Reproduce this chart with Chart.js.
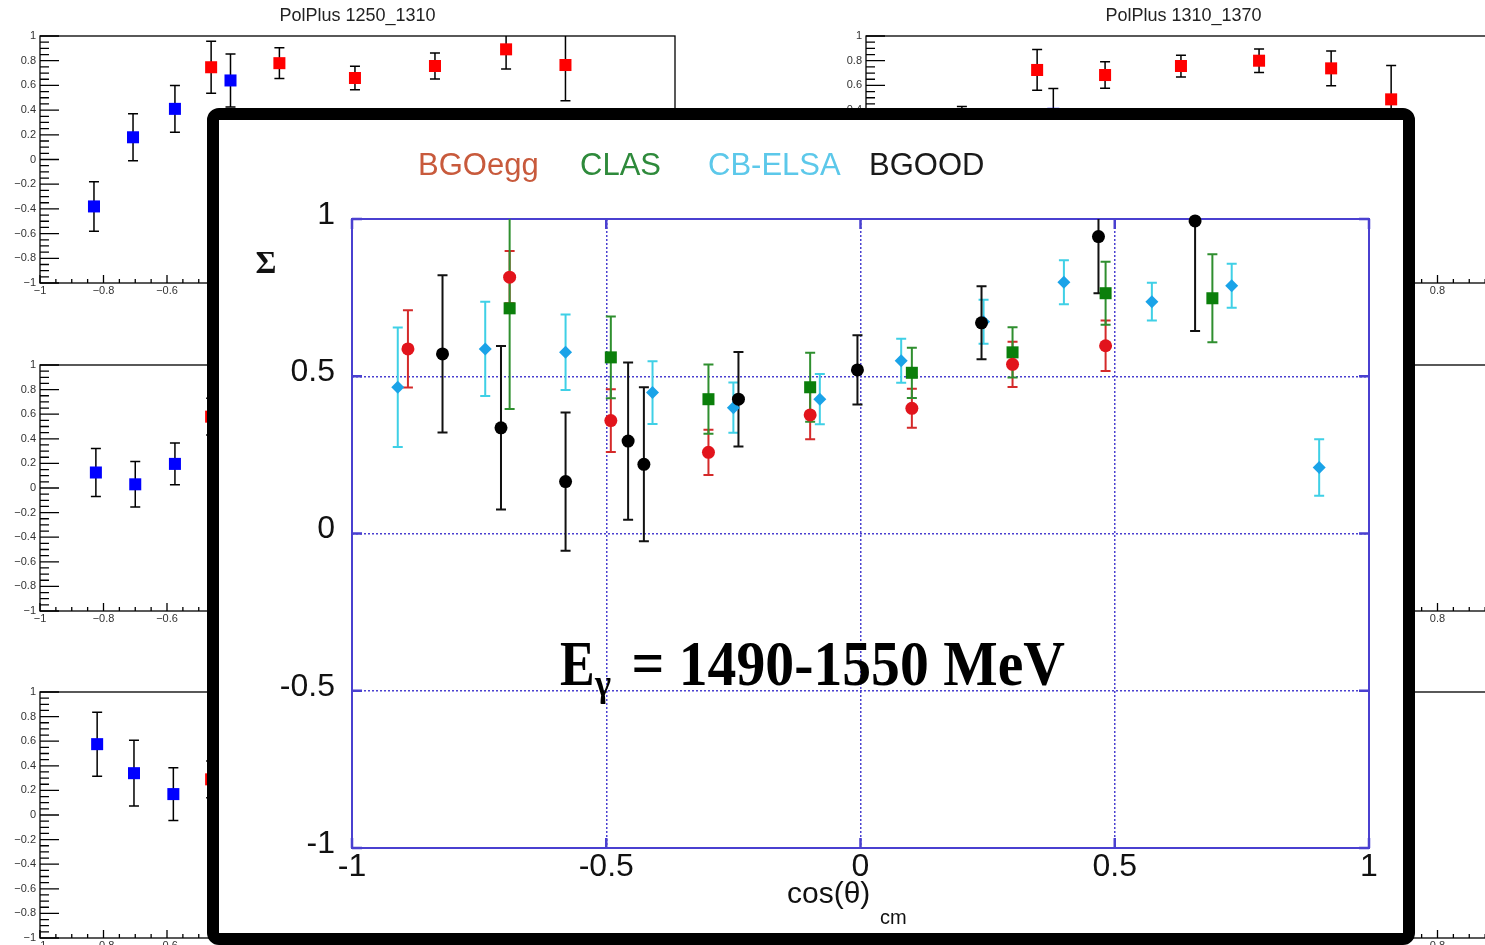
<!DOCTYPE html>
<html>
<head>
<meta charset="utf-8">
<title>Beam asymmetry Sigma</title>
<script src="https://cdn.jsdelivr.net/npm/chart.js@4.4.0/dist/chart.umd.min.js"></script>
<style>
  html, body { margin: 0; padding: 0; background: #fff; }
  body { width: 1485px; height: 945px; overflow: hidden; position: relative; }
  .panel { position: absolute; width: 700px; }
  #overlay {
    position: absolute; left: 207px; top: 108px; width: 1208px; height: 837px;
    border: 12px solid #000; border-radius: 12px; box-sizing: border-box; background: #fff;
  }
  #main-wrap { position: absolute; left: 0; top: 0; width: 1184px; height: 813px; }
</style>
</head>
<body>

<div class="panel" style="left:0px;top:0px;height:303px"><canvas id="p1"></canvas></div>
<div class="panel" style="left:826px;top:0px;height:303px"><canvas id="p2"></canvas></div>
<div class="panel" style="left:0px;top:329px;height:302px"><canvas id="p3"></canvas></div>
<div class="panel" style="left:826px;top:329px;height:302px"><canvas id="p4"></canvas></div>
<div class="panel" style="left:0px;top:656px;height:302px"><canvas id="p5"></canvas></div>
<div class="panel" style="left:826px;top:656px;height:302px"><canvas id="p6"></canvas></div>

<div id="overlay">
  <div id="main-wrap"><canvas id="sigma-chart"></canvas></div>
</div>

<script>
// ---- background panels (PolPlus) ----
const p1Title = "PolPlus 1250_1310";
const p1BlueX = [-0.83, -0.707, -0.575, -0.40];
const p1BlueY = [-0.38, 0.18, 0.41, 0.64];
const p1BlueErr = [0.20, 0.19, 0.19, 0.215];
const p1RedX = [-0.461, -0.246, -0.008, 0.244, 0.468, 0.655];
const p1RedY = [0.747, 0.78, 0.66, 0.757, 0.892, 0.765];
const p1RedErr = [0.21, 0.125, 0.095, 0.105, 0.16, 0.29];

const p2Title = "PolPlus 1310_1370";
const p2BlueX = [-0.698, -0.41];
const p2BlueY = [0.24, 0.37];
const p2BlueErr = [0.19, 0.205];
const p2RedX = [-0.461, -0.247, -0.008, 0.238, 0.465, 0.654];
const p2RedY = [0.725, 0.684, 0.757, 0.80, 0.738, 0.487];
const p2RedErr = [0.165, 0.108, 0.088, 0.095, 0.14, 0.275];

const p3BlueX = [-0.824, -0.70, -0.575];
const p3BlueY = [0.126, 0.03, 0.196];
const p3BlueErr = [0.195, 0.185, 0.17];
const p3RedX = [-0.461];
const p3RedY = [0.58];
const p3RedErr = [0.15];

const p5BlueX = [-0.82, -0.704, -0.58];
const p5BlueY = [0.576, 0.34, 0.17];
const p5BlueErr = [0.26, 0.267, 0.215];
const p5RedX = [-0.461];
const p5RedY = [0.29];
const p5RedErr = [0.15];

// ---- main plot: Sigma vs cos(theta)_cm, E_gamma = 1490-1550 MeV ----
const seriesNames = ["BGOegg", "CLAS", "CB-ELSA", "BGOOD"];

const bgoX = [-0.890, -0.690, -0.491, -0.299, -0.099, 0.101, 0.299, 0.482];
const bgoY = [0.587, 0.815, 0.359, 0.258, 0.377, 0.398, 0.538, 0.597];
const bgoErr = [0.123, 0.083, 0.10, 0.072, 0.077, 0.062, 0.072, 0.08];

const clasX = [-0.690, -0.491, -0.299, -0.099, 0.101, 0.299, 0.482, 0.692];
const clasY = [0.716, 0.560, 0.427, 0.465, 0.511, 0.576, 0.764, 0.748];
const clasErr = [0.32, 0.13, 0.11, 0.11, 0.08, 0.08, 0.10, 0.14];

const cbX = [-0.910, -0.738, -0.580, -0.409, -0.250, -0.080, 0.080, 0.242, 0.400, 0.573, 0.730, 0.902];
const cbY = [0.465, 0.587, 0.576, 0.448, 0.400, 0.427, 0.549, 0.673, 0.799, 0.737, 0.788, 0.210];
const cbErr = [0.19, 0.15, 0.12, 0.10, 0.08, 0.08, 0.07, 0.07, 0.07, 0.06, 0.07, 0.09];

const bgoodX = [-0.822, -0.707, -0.580, -0.457, -0.426, -0.240, -0.006, 0.238, 0.468, 0.658];
const bgoodY = [0.571, 0.336, 0.165, 0.294, 0.220, 0.427, 0.520, 0.670, 0.944, 0.994];
const bgoodErr = [0.25, 0.26, 0.22, 0.25, 0.245, 0.15, 0.11, 0.116, 0.18, 0.35];

const frameBlue = "#4a40d0";

Chart.defaults.font.family = "'Liberation Sans', Arial, sans-serif";

function points(xs, ys){
    return xs.map((v, i) => ({x: v, y: ys[i]}));
}

// ROOT style number, with a real minus sign
function rootLabel(v){
    const r = Math.round(v * 100) / 100;
    return r < 0 ? "\u2212" + String(-r) : String(r);
}

// frame box + inward ticks like ROOT
const rootFrame = {
    id: 'rootFrame',
    beforeDatasetsDraw(chart, args, o){
        const {ctx, chartArea: a, scales: {x, y}} = chart;
        ctx.save();
        ctx.strokeStyle = o.color;
        ctx.lineWidth = o.width;
        ctx.strokeRect(a.left, a.top, a.right - a.left, a.bottom - a.top);

        const walk = (minor, major, fn) => {
            const n = Math.round(2 / minor);
            for(let i = 0; i <= n; i++){
                const v = -1 + i * minor;
                const r = v / major;
                fn(v, Math.abs(r - Math.round(r)) < 1e-6);
            }
        };
        ctx.lineWidth = o.tickWidth;
        ctx.beginPath();
        walk(o.xMinor, o.xMajor, (v, big) => {
            const px = x.getPixelForValue(v);
            const len = big ? o.xMajorLen : o.xMinorLen;
            ctx.moveTo(px, a.bottom); ctx.lineTo(px, a.bottom - len);
            if(o.mirror){ ctx.moveTo(px, a.top); ctx.lineTo(px, a.top + len); }
        });
        walk(o.yMinor, o.yMajor, (v, big) => {
            const py = y.getPixelForValue(v);
            const len = big ? o.yMajorLen : o.yMinorLen;
            ctx.moveTo(a.left, py); ctx.lineTo(a.left + len, py);
            if(o.mirror){ ctx.moveTo(a.right, py); ctx.lineTo(a.right - len, py); }
        });
        ctx.stroke();
        ctx.restore();
    }
};

// vertical error bars with caps, clipped to the frame
const errorBars = {
    id: 'errorBars',
    beforeDatasetsDraw(chart){
        const {ctx, chartArea: a, scales: {x, y}} = chart;
        ctx.save();
        ctx.beginPath();
        ctx.rect(a.left, a.top, a.right - a.left, a.bottom - a.top);
        ctx.clip();
        chart.data.datasets.forEach(ds => {
            if(!ds.errors) return;
            ctx.strokeStyle = ds.errorColor;
            ctx.lineWidth = ds.errorWidth;
            const c = ds.capHalf;
            ds.data.forEach((p, j) => {
                const px = x.getPixelForValue(p.x);
                const top = y.getPixelForValue(p.y + ds.errors[j]);
                const bot = y.getPixelForValue(p.y - ds.errors[j]);
                ctx.beginPath();
                ctx.moveTo(px, top); ctx.lineTo(px, bot);
                ctx.moveTo(px - c, top); ctx.lineTo(px + c, top);
                ctx.moveTo(px - c, bot); ctx.lineTo(px + c, bot);
                ctx.stroke();
            });
        });
        ctx.restore();
    }
};

// legend row, axis titles and the energy label of the big plot
const sigmaText = {
    id: 'sigmaText',
    afterDraw(chart, args, o){
        const ctx = chart.ctx;
        ctx.save();
        ctx.textAlign = 'left';
        ctx.textBaseline = 'alphabetic';

        ctx.font = "31px 'Liberation Sans', Arial, sans-serif";
        chart.data.datasets.forEach((ds, i) => {
            ctx.fillStyle = ds.legendColor;
            ctx.fillText(ds.label, o.legendX[i], o.legendY);
        });

        ctx.fillStyle = "#111";
        ctx.font = "bold 32px 'Liberation Serif', serif";
        ctx.textAlign = 'center';
        ctx.fillText("\u03A3", 47, 153);

        ctx.textAlign = 'left';
        ctx.font = "30px 'Liberation Sans', Arial, sans-serif";
        ctx.fillText("cos(\u03B8)", 568, 783);
        ctx.font = "20px 'Liberation Sans', Arial, sans-serif";
        ctx.fillText("cm", 661, 804);

        ctx.fillStyle = "#000";
        ctx.font = "bold 64px 'Liberation Serif', serif";
        const rest = " = 1490-1550 MeV";
        const k = (846 - 398) / ctx.measureText(rest).width;
        ctx.save(); ctx.translate(341, 565); ctx.scale(k * 0.9, 1); ctx.fillText("E", 0, 0); ctx.restore();
        ctx.save(); ctx.translate(398, 565); ctx.scale(k, 1); ctx.fillText(rest, 0, 0); ctx.restore();
        ctx.font = "bold 38px 'Liberation Serif', serif";
        ctx.save(); ctx.translate(376, 576); ctx.scale(k, 1); ctx.fillText("\u03B3", 0, 0); ctx.restore();
        ctx.restore();
    }
};

function panelChart(id, title, series){
    const hasTitle = !!title;
    return new Chart(document.getElementById(id), {
        type: 'scatter',
        data: {
            datasets: series.map(s => ({
                data: points(s.x, s.y),
                errors: s.err,
                errorColor: "#000",
                errorWidth: 1.5,
                capHalf: 5,
                pointStyle: 'rect',
                pointRadius: 8.5,
                pointHoverRadius: 8.5,
                pointBackgroundColor: s.color,
                pointBorderColor: s.color,
                pointBorderWidth: 0,
                clip: false,
            }))
        },
        options: {
            maintainAspectRatio: false,
            responsive: true,
            animation: false,
            layout: { padding: { top: hasTitle ? 0 : 36, right: 25, left: 0, bottom: 0 } },
            plugins: {
                legend: { display: false },
                tooltip: { enabled: false },
                title: {
                    display: hasTitle,
                    text: title || "",
                    fullSize: false,
                    color: "#222",
                    font: { size: 18, weight: 'normal' },
                    padding: { top: 5, bottom: 9.4 }
                },
                rootFrame: {
                    color: "#000", width: 1.3, tickWidth: 1.3, mirror: false,
                    xMajor: 0.2, xMinor: 0.05, xMajorLen: 8, xMinorLen: 4,
                    yMajor: 0.2, yMinor: 0.05, yMajorLen: 19, yMinorLen: 9
                }
            },
            scales: {
                x: {
                    type: 'linear', min: -1, max: 1,
                    ticks: { stepSize: 0.2, color: "#333", font: { size: 11 }, padding: 1,
                             maxRotation: 0, autoSkip: false, callback: v => rootLabel(v) },
                    grid: { display: false, drawTicks: false },
                    border: { display: false },
                    afterFit: s => { s.height = 20; }
                },
                y: {
                    type: 'linear', min: -1, max: 1,
                    ticks: { stepSize: 0.2, color: "#333", font: { size: 11 }, padding: 4,
                             autoSkip: false, callback: v => rootLabel(v) },
                    grid: { display: false, drawTicks: false },
                    border: { display: false },
                    afterFit: s => { s.width = 40; }
                }
            }
        },
        plugins: [rootFrame, errorBars]
    });
}

window.onload = function(){

    panelChart('p1', p1Title, [
        { x: p1BlueX, y: p1BlueY, err: p1BlueErr, color: "#0000ff" },
        { x: p1RedX, y: p1RedY, err: p1RedErr, color: "#ff0000" }
    ]);
    panelChart('p2', p2Title, [
        { x: p2BlueX, y: p2BlueY, err: p2BlueErr, color: "#0000ff" },
        { x: p2RedX, y: p2RedY, err: p2RedErr, color: "#ff0000" }
    ]);
    panelChart('p3', null, [
        { x: p3BlueX, y: p3BlueY, err: p3BlueErr, color: "#0000ff" },
        { x: p3RedX, y: p3RedY, err: p3RedErr, color: "#ff0000" }
    ]);
    panelChart('p4', null, []);
    panelChart('p5', null, [
        { x: p5BlueX, y: p5BlueY, err: p5BlueErr, color: "#0000ff" },
        { x: p5RedX, y: p5RedY, err: p5RedErr, color: "#ff0000" }
    ]);
    panelChart('p6', null, []);

    const edge = c => c.tick && Math.abs(c.tick.value) > 0.99;
    const plain = v => String(Math.round(v * 10) / 10);

    let sigmaChart = new Chart(
        document.getElementById('sigma-chart'), {
            type: 'scatter',
            data: {
                datasets: [
                    {
                        label: seriesNames[0],
                        legendColor: "#c85a3c",
                        data: points(bgoX, bgoY),
                        errors: bgoErr, errorColor: "#d42a2a", errorWidth: 2, capHalf: 5,
                        pointStyle: 'circle', pointRadius: 6.5,
                        pointBackgroundColor: "#e2141c", pointBorderColor: "#e2141c", pointBorderWidth: 0,
                        order: 1, clip: false,
                    },
                    {
                        label: seriesNames[1],
                        legendColor: "#2e8a3b",
                        data: points(clasX, clasY),
                        errors: clasErr, errorColor: "#2f8f2f", errorWidth: 2, capHalf: 5,
                        pointStyle: 'rect', pointRadius: 8.5,
                        pointBackgroundColor: "#0b7f0b", pointBorderColor: "#0b7f0b", pointBorderWidth: 0,
                        order: 2, clip: false,
                    },
                    {
                        label: seriesNames[2],
                        legendColor: "#5cc8ea",
                        data: points(cbX, cbY),
                        errors: cbErr, errorColor: "#3fd0e6", errorWidth: 2, capHalf: 5,
                        pointStyle: 'rectRot', pointRadius: 6.5,
                        pointBackgroundColor: "#1aa3e8", pointBorderColor: "#1aa3e8", pointBorderWidth: 0,
                        order: 3, clip: false,
                    },
                    {
                        label: seriesNames[3],
                        legendColor: "#1a1a1a",
                        data: points(bgoodX, bgoodY),
                        errors: bgoodErr, errorColor: "#111", errorWidth: 2, capHalf: 5,
                        pointStyle: 'circle', pointRadius: 6.5,
                        pointBackgroundColor: "#000", pointBorderColor: "#000", pointBorderWidth: 0,
                        order: 0, clip: false,
                    }
                ]
            },
            options: {
                maintainAspectRatio: false,
                responsive: true,
                animation: false,
                layout: { padding: { top: 99, right: 34, left: 0, bottom: 0 } },
                plugins: {
                    legend: { display: false },
                    tooltip: { enabled: false },
                    rootFrame: {
                        color: frameBlue, width: 2, tickWidth: 2.5, mirror: true,
                        xMajor: 0.5, xMinor: 0.5, xMajorLen: 10, xMinorLen: 10,
                        yMajor: 0.5, yMinor: 0.5, yMajorLen: 10, yMinorLen: 10
                    },
                    sigmaText: {
                        legendX: [199, 361, 489, 650],
                        legendY: 55
                    }
                },
                scales: {
                    x: {
                        type: 'linear', min: -1, max: 1,
                        ticks: { stepSize: 0.5, color: "#111", font: { size: 32 }, padding: 0,
                                 maxRotation: 0, autoSkip: false, callback: plain },
                        grid: { color: c => edge(c) ? "rgba(0,0,0,0)" : frameBlue, lineWidth: 1.5, drawTicks: false },
                        border: { display: false, dash: [2, 2] },
                        afterFit: s => { s.height = 85; }
                    },
                    y: {
                        type: 'linear', min: -1, max: 1,
                        ticks: { stepSize: 0.5, color: "#111", font: { size: 32 }, padding: 17,
                                 labelOffset: -4, autoSkip: false, callback: plain },
                        grid: { color: c => edge(c) ? "rgba(0,0,0,0)" : frameBlue, lineWidth: 1.5, drawTicks: false },
                        border: { display: false, dash: [2, 2] },
                        afterFit: s => { s.width = 133; }
                    }
                }
            },
            plugins: [rootFrame, errorBars, sigmaText]
        }
    );

}
</script>
</body>
</html>
